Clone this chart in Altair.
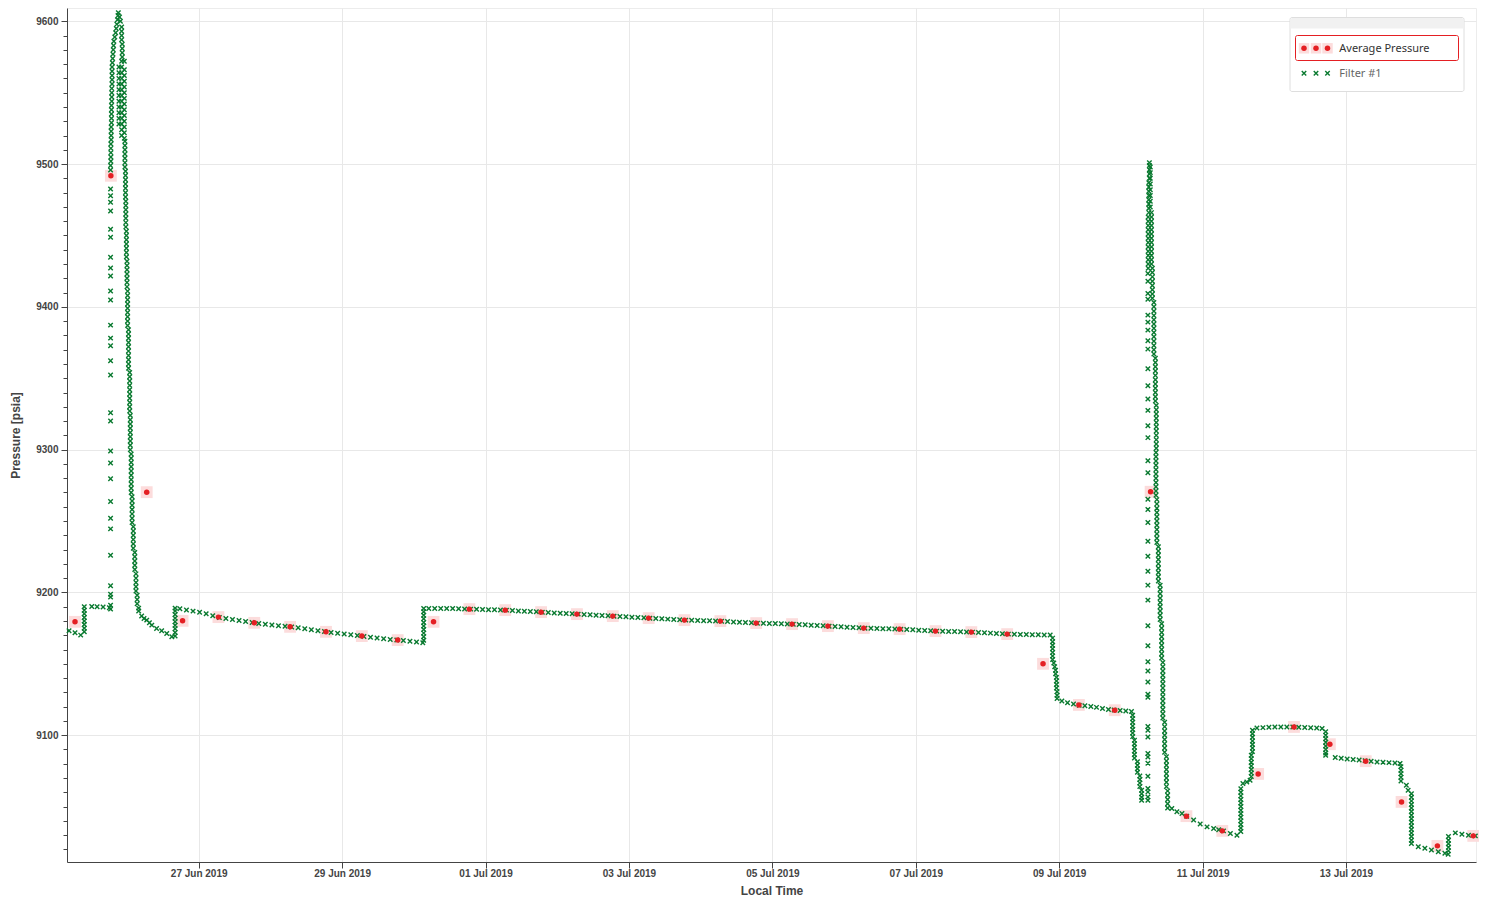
import altair as alt
import pandas as pd

START = pd.Timestamp("2019-06-25 00:00:00")

# ---------------- Average Pressure (12-hour averages) ----------------
# hours after 25 Jun 2019 00:00
avg_hours = [6.6, 18.6, 30.6, 42.6, 54.6, 66.6, 78.6, 90.6, 102.6, 114.6,
             126.6, 138.6, 150.6, 162.6, 174.6, 186.6, 198.6, 210.6, 222.6, 234.6,
             246.6, 258.6, 270.6, 282.6, 294.6, 306.6, 318.6, 330.6, 342.6, 354.6,
             366.6, 378.6, 390.6, 402.6, 414.6, 426.6, 438.6, 450.6, 462.6, 474.6]
avg_psia = [9179.4, 9491.8, 9270.2, 9180.1, 9182.7, 9178.7, 9175.9, 9172.4, 9169.4, 9166.6,
            9179.4, 9188.3, 9187.6, 9186.2, 9184.8, 9183.4, 9182.0, 9180.6, 9179.9, 9178.5,
            9177.8, 9176.4, 9175.0, 9174.3, 9172.9, 9172.2, 9170.8, 9150.0, 9121.2, 9117.5,
            9270.5, 9043.3, 9033.0, 9072.9, 9105.8, 9093.7, 9081.8, 9053.3, 9022.5, 9029.5]

# ---------------- Filter #1 samples ----------------
# (hours, psia) or (hours, [psia, psia, ...]) for a run logged at almost the same time
f1_jun25 = [
    (4.6, 9173.1), (6.6, 9171.7), (8.5, 9170.1),
    (9.7, [9172.5, 9175.0, 9177.5, 9180.0, 9182.5, 9185.0, 9187.5, 9190.0]),
    (12.2, 9190.2), (14.0, 9190.0), (16.0, 9189.8), (18.1, 9189.2),
    (18.5, [9188.3, 9191.1, 9196.7, 9198.8, 9204.6, 9226.1, 9244.5, 9252.0, 9263.7, 9279.6,
            9290.6, 9299.0, 9320.0, 9325.8, 9352.2, 9362.2, 9372.7, 9378.1, 9387.2, 9404.8,
            9411.1, 9421.6, 9427.2, 9434.7, 9448.7, 9454.3, 9467.1, 9473.2, 9477.8, 9482.5,
            9495.8]),
    (18.5, 9499), (18.6, 9502), (18.6, 9505), (18.6, 9508), (18.6, 9511), (18.6, 9514),
    (18.7, 9517), (18.7, 9520), (18.7, 9523), (18.7, 9526), (18.8, 9529), (18.8, 9532),
    (18.8, 9535), (18.8, 9538), (18.8, 9541), (18.9, 9544), (18.9, 9547), (18.9, 9550),
    (18.9, 9553), (19.0, 9556), (19.0, 9559), (19.0, 9562), (19.0, 9565), (19.0, 9568),
    (19.1, 9571), (19.2, 9574), (19.3, 9577), (19.4, 9580), (19.5, 9583), (19.6, 9586),
    (19.9, 9589), (20.2, 9592), (20.4, 9595), (20.6, 9598), (20.8, 9601), (21.0, 9604),
    (21.1, 9606), (21.5, 9603), (21.8, 9600),
    (22.2, [9596, 9593, 9590, 9587]),
    (22.4, [9584, 9581, 9578, 9575]),
    (21.3, [9568, 9564, 9560, 9556, 9552, 9548, 9544, 9540, 9536, 9532, 9528]),
    (22.2, [9572, 9568, 9564, 9560, 9556, 9552, 9548, 9544, 9540, 9536, 9532, 9528, 9524, 9520]),
    (23.1, [9572, 9566, 9562, 9558, 9554, 9550, 9546, 9542, 9538, 9534, 9530, 9526, 9522, 9518]),
    (23.3, [9516, 9513, 9510, 9507, 9504, 9501, 9498]),
    (23.5, [9495, 9492, 9489, 9486, 9483, 9480, 9477]),
    (23.6, [9474, 9471, 9468, 9465, 9462, 9459, 9456]),
    (23.8, [9453, 9450, 9447, 9444, 9441, 9438, 9435]),
    (24.0, [9432, 9429, 9426, 9423, 9420, 9417, 9414]),
    (24.2, [9411, 9408, 9405, 9402, 9399, 9396, 9393, 9390, 9387]),
    (24.5, [9384, 9381, 9378, 9375, 9372, 9369, 9366, 9363, 9360, 9357]),
    (24.9, [9354, 9351, 9348, 9345, 9342, 9339, 9336, 9333, 9330, 9327]),
    (25.1, [9324, 9321, 9318, 9315, 9312, 9309, 9306, 9303, 9300]),
    (25.4, [9297, 9294, 9291, 9288, 9285, 9282, 9279, 9276, 9273, 9270]),
    (25.7, [9267, 9264, 9261, 9258, 9255, 9252, 9249]),
    (26.1, [9246, 9243, 9240, 9237, 9234, 9231]),
    (26.6, [9228, 9225, 9222, 9219, 9216]),
    (27.0, [9213, 9210, 9207, 9204, 9201]),
    (27.4, [9198, 9195, 9192]),
    (27.9, [9189, 9187]),
    (28.9, 9183.5), (29.7, 9181.8), (30.6, 9180.6), (31.5, 9178.8), (32.3, 9177.1),
    (33.9, 9174.8), (35.6, 9173.1), (37.3, 9171.3), (39.0, 9168.9),
]

f1_jun26_30 = [
    (40.1, [9169.5, 9172.0, 9174.5, 9177.0, 9179.5, 9182.0, 9184.5, 9187.0, 9189.0]),
    (41.7, 9188.5), (43.9, 9187.7), (46.1, 9186.9), (48.3, 9186.1), (50.5, 9185.0),
    (52.7, 9183.6), (54.9, 9182.5), (57.1, 9181.8), (59.3, 9181.0), (61.5, 9180.3),
    (63.7, 9179.6), (65.9, 9178.9), (68.1, 9178.3), (70.3, 9177.7), (72.5, 9177.2),
    (74.7, 9176.7), (76.9, 9176.3), (79.1, 9175.8), (81.3, 9175.2), (83.5, 9174.5),
    (85.7, 9173.9), (87.9, 9173.2), (90.1, 9172.6), (92.3, 9172.0), (94.5, 9171.4),
    (96.7, 9170.9), (98.9, 9170.3), (101.1, 9169.8), (103.3, 9169.2), (105.5, 9168.6),
    (107.7, 9168.1), (109.9, 9167.6), (112.1, 9167.1), (114.3, 9166.7), (116.5, 9166.3),
    (118.7, 9165.8), (120.9, 9165.3), (123.0, 9164.7),
    (123.3, [9166.5, 9169.0, 9171.5, 9174.0, 9176.5, 9179.0, 9181.5, 9184.0, 9186.5, 9188.8]),
]

f1_jul01_09 = [
    (125, 9188.8), (127, 9188.8), (129, 9188.8), (131, 9188.8), (133, 9188.7), (135, 9188.5),
    (137, 9188.4), (139, 9188.3), (141, 9188.2), (143, 9188.0), (145, 9187.9), (147, 9187.8),
    (149, 9187.7), (151, 9187.6), (153, 9187.3), (155, 9187.0), (157, 9186.8), (159, 9186.6),
    (161, 9186.4), (163, 9186.1), (165, 9185.9), (167, 9185.6), (169, 9185.4), (171, 9185.2),
    (173, 9185.0), (175, 9184.8), (177, 9184.5), (179, 9184.3), (181, 9184.0), (183, 9183.8),
    (185, 9183.6), (187, 9183.3), (189, 9183.1), (191, 9182.9), (193, 9182.6), (195, 9182.4),
    (197, 9182.2), (199, 9181.9), (201, 9181.7), (203, 9181.5), (205, 9181.3), (207, 9181.0),
    (209, 9180.8), (211, 9180.6), (213, 9180.5), (215, 9180.4), (217, 9180.2), (219, 9180.1),
    (221, 9180.0), (223, 9179.8), (225, 9179.6), (227, 9179.3), (229, 9179.1), (231, 9178.9),
    (233, 9178.7), (235, 9178.4), (237, 9178.4), (239, 9178.3), (241, 9178.2), (243, 9178.0),
    (245, 9177.9), (247, 9177.7), (249, 9177.5), (251, 9177.3), (253, 9177.0), (255, 9176.8),
    (257, 9176.6), (259, 9176.3), (261, 9176.1), (263, 9175.9), (265, 9175.6), (267, 9175.4),
    (269, 9175.2), (271, 9174.9), (273, 9174.9), (275, 9174.8), (277, 9174.6), (279, 9174.5),
    (281, 9174.4), (283, 9174.2), (285, 9174.0), (287, 9173.8), (289, 9173.5), (291, 9173.3),
    (293, 9173.1), (295, 9172.9), (297, 9172.8), (299, 9172.7), (301, 9172.6), (303, 9172.4),
    (305, 9172.3), (307, 9172.2), (309, 9171.9), (311, 9171.7), (313, 9171.5), (315, 9171.3),
    (317, 9171.0), (319, 9170.8), (321, 9170.7), (323, 9170.6), (325, 9170.5), (327, 9170.4),
    (329, 9170.3), (331, 9170.2), (333, 9170.2),
]

f1_jul09_10 = [
    (333.8, [9168.0, 9165.5, 9163.0, 9160.5, 9158.0, 9155.5, 9153.0]),
    (334.2, 9150.5), (334.5, 9148.0),
    (334.8, [9145.5, 9143.0]),
    (335.1, [9140.5, 9138.0, 9135.5, 9133.0]),
    (335.3, [9130.5, 9128.0, 9125.7]),
    (336.9, 9124.0), (338.8, 9122.8), (340.8, 9121.8), (342.7, 9121.0), (344.6, 9120.6),
    (346.6, 9120.1), (348.5, 9119.5), (350.5, 9118.7), (352.5, 9118.0), (354.4, 9117.6),
    (356.4, 9117.3), (358.3, 9117.0), (360.2, 9116.6),
    (360.6, [9114.0, 9111.5, 9109.0, 9106.5, 9104.0, 9101.5, 9099.0]),
    (361.2, [9096.5, 9094.0, 9091.5, 9089.0, 9086.5, 9084.0]),
    (362.2, [9081.5, 9079.0, 9076.5, 9074.0]),
    (363.0, [9071.5, 9069.0, 9066.5, 9064.0]),
    (363.6, [9061.5, 9059.0, 9056.5, 9054.5]),
    (365.7, [9054.5, 9056.8, 9060.3, 9062.7, 9071.3, 9080.4, 9084.8, 9087.2, 9098.8, 9103.5,
             9106.1, 9126.6, 9128.7, 9137.3, 9145.0, 9151.4, 9162.6, 9176.6, 9194.6, 9205.1,
             9214.9, 9225.4, 9235.9, 9249.0, 9258.1, 9265.3, 9283.8, 9292.2, 9308.4, 9316.7,
             9327.5, 9335.4, 9344.7, 9356.6, 9370.4, 9376.2, 9383.7, 9389.3, 9394.2, 9405.3,
             9409.4, 9417.9, 9423.3]),
    (365.8, [9427, 9430, 9433, 9436, 9439, 9442, 9445, 9448, 9451, 9454, 9457, 9460, 9463]),
    (366.0, [9466, 9469, 9472, 9475, 9478, 9481, 9484, 9487]),
    (366.2, [9490, 9493, 9496, 9499, 9501]),
    (366.5, [9498, 9494, 9490, 9486, 9482, 9478, 9474, 9470]),
    (366.9, [9466, 9463, 9460, 9457, 9454, 9451, 9448, 9445, 9442, 9439, 9436, 9433, 9430]),
    (367.2, [9427, 9424, 9421, 9418, 9415, 9412, 9409, 9406]),
    (367.7, [9403, 9400, 9397, 9394, 9391, 9388, 9385, 9382, 9379, 9376, 9373, 9370, 9367]),
    (368.2, [9364, 9361, 9358, 9355, 9352, 9349, 9346, 9343, 9340, 9337, 9334]),
    (368.5, [9331, 9328, 9325, 9322, 9319, 9316, 9313, 9310, 9307, 9304, 9301]),
    (368.4, [9298, 9295, 9292, 9289, 9286, 9283, 9280, 9277, 9274, 9271, 9268]),
    (368.7, [9265, 9262, 9259, 9256, 9253, 9250, 9247, 9244, 9241, 9238, 9235]),
    (369.2, [9232, 9229, 9226, 9223, 9220, 9217, 9214, 9211, 9208]),
    (369.8, [9205, 9202, 9199, 9196, 9193, 9190, 9187, 9184, 9181]),
    (370.3, [9178, 9175, 9172, 9169, 9166, 9163, 9160, 9157, 9154]),
    (370.7, [9151, 9148, 9145, 9142, 9139, 9136, 9133, 9130, 9127, 9124, 9121, 9118, 9115, 9112]),
    (371.3, [9109, 9106, 9103, 9100, 9097, 9094, 9091, 9088]),
    (371.9, [9085, 9082, 9079, 9076, 9073, 9070, 9067, 9064]),
    (372.3, [9061, 9058, 9055, 9052, 9049]),
]

f1_jul10_14 = [
    (373.7, 9048.6), (375.4, 9046.4), (377.1, 9045.2), (378.7, 9043.3), (381.0, 9040.6),
    (383.2, 9037.8), (385.5, 9035.8), (387.7, 9034.7), (389.4, 9033.8), (391.0, 9033.0),
    (393.3, 9031.2), (395.5, 9030.0),
    (396.8, [9032.5, 9035.0, 9037.5, 9040.0, 9042.5, 9045.0, 9047.5, 9050.0, 9052.5, 9055.0,
             9057.5, 9060.0, 9062.5]),
    (397.5, 9066.2), (398.8, 9067.3), (399.9, 9068.5),
    (400.3, [9071.0, 9073.5, 9076.0, 9078.5, 9081.0, 9083.5, 9086.0]),
    (400.7, [9088.5, 9091.0, 9093.5, 9096.0, 9098.5, 9101.0, 9103.5]),
    (402.2, 9105.1), (404.2, 9105.3), (406.2, 9105.5), (408.2, 9105.8), (410.2, 9105.8),
    (412.2, 9105.8), (414.2, 9105.8), (416.2, 9105.6), (418.2, 9105.4), (420.2, 9105.2),
    (422.2, 9105.0), (424.0, 9104.7),
    (425.2, [9102.5, 9100.0, 9097.5, 9095.0, 9092.5, 9090.0, 9087.5, 9086.0]),
    (428.4, 9084.4), (430.4, 9083.8), (432.4, 9083.4), (434.4, 9083.0), (436.4, 9082.6),
    (438.4, 9082.2), (440.4, 9081.7), (442.4, 9081.2), (444.4, 9081.0), (446.4, 9080.8),
    (448.4, 9080.6), (450.1, 9080.2),
    (450.4, [9078.0, 9075.5, 9073.0, 9070.5, 9068.0]),
    (452.2, 9065.0), (452.8, 9061.5),
    (453.9, [9059.0, 9056.5, 9054.0, 9051.5, 9049.0, 9046.5, 9044.0, 9041.5, 9039.0, 9036.5,
             9034.0, 9031.5, 9029.0, 9026.5, 9024.2]),
    (456.2, 9021.9), (458.4, 9020.8), (460.6, 9019.6), (462.9, 9018.4), (465.1, 9017.3),
    (466.2, 9016.6),
    (466.3, [9019.0, 9021.5, 9024.0, 9026.5, 9029.0]),
    (468.6, 9031.6), (470.8, 9030.7), (473.0, 9030.0), (475.3, 9029.5),
]

x_tick_days = [(6, 27), (6, 29), (7, 1), (7, 3), (7, 5), (7, 7), (7, 9), (7, 11), (7, 13)]
legend_labels = ["Average Pressure", "Filter #1"]

RED = "#e41f23"
HALO = "#fcdcdc"
GREEN = "#0a7a30"
AXIS = "#444444"


def expand(segments):
    rows = []
    for h, p in segments:
        if isinstance(p, list):
            rows.extend((h, v) for v in p)
        else:
            rows.append((h, p))
    return rows


green_df = pd.DataFrame(expand(f1_jun25 + f1_jun26_30 + f1_jul01_09 + f1_jul09_10 + f1_jul10_14),
                        columns=["hours", "psia"])
green_df["time"] = START + pd.to_timedelta(green_df["hours"], unit="h")

avg_df = pd.DataFrame({"hours": avg_hours, "psia": avg_psia})
avg_df["time"] = START + pd.to_timedelta(avg_df["hours"], unit="h")

W, H = 1409, 854

x_scale = alt.Scale(domain=[alt.DateTime(year=2019, month=6, date=25, hours=3, minutes=55),
                            alt.DateTime(year=2019, month=7, date=14, hours=19, minutes=31)],
                    nice=False)
y_scale = alt.Scale(domain=[9011.2, 9609.3], nice=False, zero=False)

x_axis = alt.Axis(
    values=[alt.DateTime(year=2019, month=m, date=d) for m, d in x_tick_days],
    format="%d %b %Y", labelFont="Liberation Sans", labelFontSize=10, labelFontWeight="bold",
    labelColor=AXIS, labelPadding=0, labelOverlap=False, labelFlush=False,
    tickSize=6, tickColor=AXIS, domainColor=AXIS, grid=True, gridColor="#e8e8e8",
    title="Local Time", titleFont="Liberation Sans", titleFontSize=12, titleFontWeight="bold",
    titleColor=AXIS, titleX=W / 2, titleY=28, titleBaseline="middle",
)
y_axis = alt.Axis(
    values=list(range(9020, 9601, 10)), format="d",
    labelExpr="datum.value % 100 === 0 ? datum.label : ''",
    labelFont="Liberation Sans", labelFontSize=10, labelFontWeight="bold", labelColor=AXIS,
    labelPadding=3, labelOverlap=False,
    tickSize={"condition": {"test": "datum.value % 100 === 0", "value": 6}, "value": 4},
    tickColor=AXIS, domainColor=AXIS, grid=True, gridColor="#e8e8e8",
    gridOpacity={"condition": {"test": "datum.value % 100 === 0", "value": 1}, "value": 0},
    title="Pressure [psia]", titleFont="Liberation Sans", titleFontSize=12,
    titleFontWeight="bold", titleColor=AXIS, titleX=-52, titleY=H / 2,
    titleBaseline="middle", titleAngle=-90,
)

x_enc = alt.X("time:T", scale=x_scale, axis=x_axis)
y_enc = alt.Y("psia:Q", scale=y_scale, axis=y_axis)

halos = alt.Chart(avg_df).mark_point(shape="square", filled=True, size=140, color=HALO,
                                     opacity=1).encode(x=x_enc, y=y_enc)
green = alt.Chart(green_df).mark_point(shape="M-1,-1L1,1M-1,1L1,-1", filled=False, size=20,
                                       strokeWidth=1.4, color=GREEN, opacity=1).encode(x=x_enc, y=y_enc)
red = alt.Chart(avg_df).mark_circle(size=30, color=RED, opacity=1).encode(x=x_enc, y=y_enc)

# ---------------- legend (decoration) ----------------
one = pd.DataFrame({"k": [0]})
box = alt.Chart(one).mark_rect(fill="white", stroke="#dedede", strokeWidth=1, cornerRadius=2).encode(
    x=alt.value(1223), x2=alt.value(1397), y=alt.value(9.5), y2=alt.value(83.5))
head = alt.Chart(one).mark_rect(fill="#f1f1f1", cornerRadiusTopLeft=2, cornerRadiusTopRight=2).encode(
    x=alt.value(1223.5), x2=alt.value(1396.5), y=alt.value(10), y2=alt.value(20.5))
sel = alt.Chart(one).mark_rect(fill="white", stroke=RED, strokeWidth=1, cornerRadius=2).encode(
    x=alt.value(1228.5), x2=alt.value(1391.5), y=alt.value(27.5), y2=alt.value(52.5))

legend_layers = [box, head, sel]
for lx in [1237, 1249, 1260.5]:
    legend_layers.append(alt.Chart(one).mark_point(shape="square", filled=True, size=110, color=HALO,
                                                   opacity=1).encode(x=alt.value(lx), y=alt.value(40.3)))
for lx in [1237, 1249, 1260.5]:
    legend_layers.append(alt.Chart(one).mark_circle(size=30, color=RED, opacity=1).encode(
        x=alt.value(lx), y=alt.value(40.3)))
    legend_layers.append(alt.Chart(one).mark_point(shape="M-1,-1L1,1M-1,1L1,-1", filled=False, size=20,
                                                   strokeWidth=1.4, color=GREEN, opacity=1).encode(
        x=alt.value(lx), y=alt.value(65.3)))

lab1 = alt.Chart(pd.DataFrame({"label": [legend_labels[0]]})).mark_text(
    align="left", baseline="middle", font="Noto Sans", fontSize=11, color="#333333").encode(
    text="label:N", x=alt.value(1272.3), y=alt.value(40.5))
lab2 = alt.Chart(pd.DataFrame({"label": [legend_labels[1]]})).mark_text(
    align="left", baseline="middle", font="Noto Sans", fontSize=11, color="#666666").encode(
    text="label:N", x=alt.value(1272.3), y=alt.value(65.5))
legend_layers += [lab1, lab2]

chart = alt.layer(halos, green, red, *legend_layers).properties(
    width=W, height=H,
    padding={"left": 59, "top": 0, "right": 3, "bottom": 40},
    autosize=alt.AutoSizeParams(type="none"),
    background="white",
).configure_view(stroke="#ececec")

chart.save("out.html", embed_options={"renderer": "svg", "actions": False})
